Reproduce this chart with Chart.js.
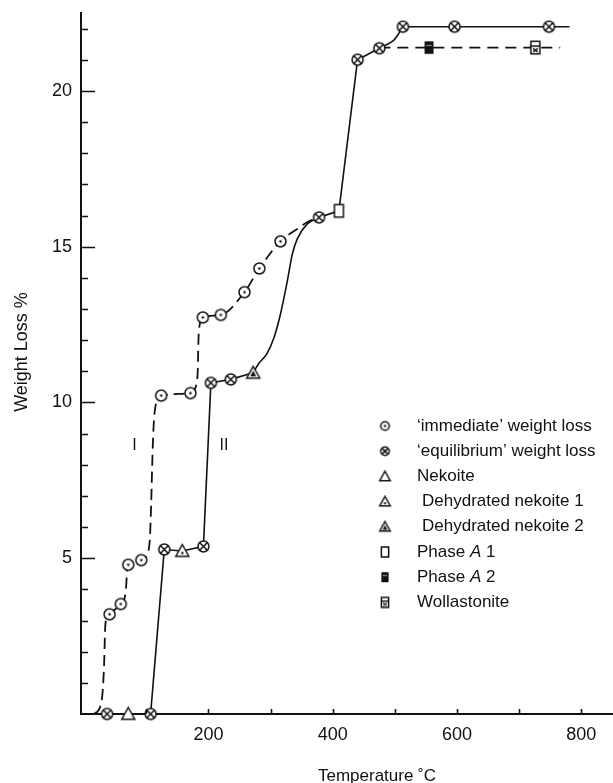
<!DOCTYPE html>
<html>
<head>
<meta charset="utf-8">
<script src="https://cdn.jsdelivr.net/npm/chart.js@4.4.1/dist/chart.umd.min.js"></script>
<style>
  html, body { margin: 0; padding: 0; background: #fff; }
  #chart { display: block; }
</style>
</head>
<body>
<canvas id="chart" width="613" height="783"></canvas>
<script>
// measured points (temperature °C, weight loss %)
const immTemp = [41, 59, 71, 92, 124, 171, 191, 220, 258, 282, 316]
const immLoss = [3.2, 3.53, 4.79, 4.94, 10.22, 10.3, 12.73, 12.81, 13.54, 14.3, 15.17]
const eqTemp = [37, 107, 129, 192, 204, 236, 378, 440, 475, 513, 596, 748]
const eqLoss = [0, 0, 5.28, 5.38, 10.63, 10.74, 15.94, 21.0, 21.37, 22.06, 22.06, 22.06]
const nekTemp = [71]
const nekLoss = [0]
const dehyd1Temp = [158]
const dehyd1Loss = [5.23]
const dehyd2Temp = [272]
const dehyd2Loss = [10.95]
const phaseA1Temp = [410]
const phaseA1Loss = [16.15]
const phaseA2Temp = [555]
const phaseA2Loss = [21.39]
const wollTemp = [726]
const wollLoss = [21.39]

// hand-drawn curve I (dashed)
const curveITemp = [16, 28, 32, 34, 36, 41, 59, 66, 68, 69, 71, 92, 103, 106, 108, 110, 112, 115, 124, 171, 181, 183, 184, 186, 191, 220, 258, 282, 316, 343, 361, 378]
const curveILoss = [0, 0.4, 1.5, 2.8, 3.05, 3.2, 3.53, 3.8, 4.2, 4.6, 4.79, 4.94, 5.2, 5.7, 6.8, 8.3, 9.3, 9.9, 10.22, 10.3, 10.6, 11.1, 12.0, 12.5, 12.73, 12.81, 13.54, 14.3, 15.17, 15.57, 15.81, 15.94]

// curve II (solid), straight and bent pieces
const lowStepTemp = [37, 71, 107, 129, 158, 192, 204, 236, 272]
const lowStepLoss = [0, 0, 0, 5.28, 5.23, 5.38, 10.63, 10.74, 10.95]
const sBendTemp = [272, 281, 294, 305, 316, 327, 335, 343, 359, 378]
const sBendLoss = [10.95, 11.25, 11.56, 12.05, 12.84, 13.9, 14.76, 15.25, 15.73, 15.94]
const jumpTemp = [378, 410, 440, 475]
const jumpLoss = [15.94, 16.15, 21.0, 21.37]
const topBendTemp = [475, 485, 498, 505, 510, 513]
const topBendLoss = [21.37, 21.47, 21.62, 21.8, 21.97, 22.06]
const plateauTemp = [513, 596, 748, 781]
const plateauLoss = [22.06, 22.06, 22.06, 22.06]
const phaseLineTemp = [475, 555, 726, 766]
const phaseLineLoss = [21.39, 21.39, 21.39, 21.39]

const xTickLabels = [200, 400, 600, 800]
const yTickLabels = [5, 10, 15, 20]

const curveNames = ["I", "II"]
const curveNameTemp = [81, 225]
const curveNameLoss = [8.6, 8.6]

const legendLabels = ["\u2018immediate\u2019 weight loss", "\u2018equilibrium\u2019 weight loss", "Nekoite", "Dehydrated nekoite 1", "Dehydrated nekoite 2", "Phase A 1", "Phase A 2", "Wollastonite"]
const legendKinds = ["dotCircle", "crossCircle", "triangle", "dotTriangle", "fillTriangle", "square", "filledSquare", "splitSquare"]

const INK = "#111"
const FONT = "'Liberation Sans', Arial, sans-serif"

function xy(temps, losses) {
  return temps.map((t, i) => ({ x: t, y: losses[i] }))
}

function makeMarker(kind, s) {
  const pad = 2
  const w = Math.ceil(s + pad * 2)
  const c = document.createElement("canvas")
  c.width = w
  c.height = w
  const g = c.getContext("2d")
  const m = w / 2
  const r = s / 2
  g.lineWidth = 1.5
  g.strokeStyle = INK
  g.fillStyle = "#fff"

  if (kind === "dotCircle" || kind === "crossCircle") {
    g.beginPath()
    g.arc(m, m, r, 0, Math.PI * 2)
    g.fill()
    g.stroke()
    if (kind === "dotCircle") {
      g.fillStyle = INK
      g.beginPath()
      g.arc(m, m, 1.2, 0, Math.PI * 2)
      g.fill()
    } else {
      const k = r * 0.68
      g.beginPath()
      g.moveTo(m - k, m - k)
      g.lineTo(m + k, m + k)
      g.moveTo(m + k, m - k)
      g.lineTo(m - k, m + k)
      g.stroke()
    }
  } else if (kind.includes("riangle")) {
    g.beginPath()
    g.moveTo(m, m - r)
    g.lineTo(m + r, m + r * 0.8)
    g.lineTo(m - r, m + r * 0.8)
    g.closePath()
    g.fill()
    g.stroke()
    g.fillStyle = INK
    if (kind === "fillTriangle") {
      g.beginPath()
      g.moveTo(m, m - r * 0.35)
      g.lineTo(m + r * 0.45, m + r * 0.55)
      g.lineTo(m - r * 0.45, m + r * 0.55)
      g.closePath()
      g.fill()
    } else if (kind === "dotTriangle") {
      g.beginPath()
      g.arc(m, m + r * 0.3, 1.2, 0, Math.PI * 2)
      g.fill()
    }
  } else {
    const hw = r * 0.72
    if (kind === "filledSquare") {
      g.fillStyle = INK
      g.fillRect(m - hw, m - r, hw * 2, r * 2)
      g.strokeStyle = "#aaa"
      g.lineWidth = 1
      g.beginPath()
      g.moveTo(m - hw + 1.5, m - r * 0.35)
      g.lineTo(m + hw - 1.5, m - r * 0.35)
      g.stroke()
    } else {
      g.fillRect(m - hw, m - r, hw * 2, r * 2)
      g.strokeRect(m - hw, m - r, hw * 2, r * 2)
      if (kind === "splitSquare") {
        g.beginPath()
        g.moveTo(m - hw, m - r * 0.25)
        g.lineTo(m + hw, m - r * 0.25)
        g.moveTo(m - hw * 0.5, m + r * 0.15)
        g.lineTo(m + hw * 0.5, m + r * 0.7)
        g.moveTo(m + hw * 0.5, m + r * 0.15)
        g.lineTo(m - hw * 0.5, m + r * 0.7)
        g.stroke()
      }
    }
  }
  return c
}

const dataMarkers = {}
const legendMarkers = {}
legendKinds.forEach((k) => {
  const big = k.includes("riangle") ? 13 : k.includes("quare") ? 12.5 : 11
  dataMarkers[k] = makeMarker(k, big)
  legendMarkers[k] = makeMarker(k, big - 2.5)
})

function traceSet(temps, losses, extra) {
  return Object.assign({
    data: xy(temps, losses),
    showLine: true,
    borderColor: INK,
    borderWidth: 1.6,
    pointRadius: 0,
    tension: 0,
    clip: false,
    order: 2,
  }, extra || {})
}

function markerSet(temps, losses, kind) {
  return {
    data: xy(temps, losses),
    showLine: false,
    pointStyle: dataMarkers[kind],
    pointRadius: 6,
    clip: false,
    order: 0,
  }
}

// keep the plot box fixed: no extra room for tick label overflow
function fixBox(size) {
  return (scale) => {
    if (scale.isHorizontal()) scale.height = size
    else scale.width = size
    scale.paddingTop = 0
    scale.paddingBottom = 0
    scale.paddingLeft = 0
    scale.paddingRight = 0
  }
}

// axis tick marks, titles, curve names and the legend
const decorations = {
  id: "decorations",
  afterDraw(chart) {
    const ctx = chart.ctx
    const area = chart.chartArea
    const xs = chart.scales.x
    const ys = chart.scales.y
    ctx.save()
    ctx.strokeStyle = INK
    ctx.lineWidth = 1.6
    ctx.beginPath()
    ys.ticks.forEach((t) => {
      if (!Number.isInteger(t.value) || t.value === 0) return
      const py = Math.round(ys.getPixelForValue(t.value)) + 0.5
      const len = t.value % 5 === 0 ? 14 : 7
      ctx.moveTo(area.left, py)
      ctx.lineTo(area.left + len, py)
    })
    xs.ticks.forEach((t) => {
      if (t.value < 100) return
      const px = Math.round(xs.getPixelForValue(t.value)) + 0.5
      ctx.moveTo(px, area.bottom)
      ctx.lineTo(px, area.bottom - 5)
    })
    ctx.stroke()

    ctx.fillStyle = INK
    ctx.textBaseline = "middle"
    ctx.textAlign = "center"
    ctx.font = "17px " + FONT
    ctx.fillText("Temperature \u02daC", 377, 776)

    ctx.save()
    ctx.translate(22, 352)
    ctx.rotate(-Math.PI / 2)
    ctx.font = "18px " + FONT
    ctx.fillText("Weight Loss %", 0, 0)
    ctx.restore()

    ctx.font = "16px " + FONT
    curveNames.forEach((name, i) => {
      ctx.fillText(name, xs.getPixelForValue(curveNameTemp[i]), ys.getPixelForValue(curveNameLoss[i]))
    })

    // legend
    ctx.textAlign = "left"
    const lx = area.left + 304
    const ly = area.top + 413
    const size = 17
    legendLabels.forEach((label, i) => {
      const y = ly + i * 25.2
      const img = legendMarkers[legendKinds[i]]
      ctx.drawImage(img, lx - img.width / 2, y - img.height / 2)
      let x = lx + (label.startsWith("Dehydrated") ? 37 : 32)
      ctx.font = size + "px " + FONT
      if (label.includes(" A ")) {
        const parts = label.split(" A ")
        ctx.fillText(parts[0] + " ", x, y)
        x += ctx.measureText(parts[0] + " ").width
        ctx.font = "italic " + size + "px " + FONT
        ctx.fillText("A", x, y)
        x += ctx.measureText("A").width
        ctx.font = size + "px " + FONT
        ctx.fillText(" " + parts[1], x, y)
      } else {
        ctx.fillText(label, x, y)
      }
    })
    ctx.restore()
  },
}

new Chart(document.getElementById("chart"), {
  type: "scatter",
  data: {
    datasets: [
      traceSet(curveITemp, curveILoss, { cubicInterpolationMode: "monotone", borderDash: [11, 6], borderWidth: 1.8 }),
      traceSet(lowStepTemp, lowStepLoss),
      traceSet(sBendTemp, sBendLoss, { cubicInterpolationMode: "monotone" }),
      traceSet(jumpTemp, jumpLoss),
      traceSet(topBendTemp, topBendLoss, { cubicInterpolationMode: "monotone" }),
      traceSet(plateauTemp, plateauLoss),
      traceSet(phaseLineTemp, phaseLineLoss, { borderDash: [11, 7], borderWidth: 1.9 }),
      markerSet(immTemp, immLoss, "dotCircle"),
      markerSet(eqTemp, eqLoss, "crossCircle"),
      markerSet(nekTemp, nekLoss, "triangle"),
      markerSet(dehyd1Temp, dehyd1Loss, "dotTriangle"),
      markerSet(dehyd2Temp, dehyd2Loss, "fillTriangle"),
      markerSet(phaseA1Temp, phaseA1Loss, "square"),
      markerSet(phaseA2Temp, phaseA2Loss, "filledSquare"),
      markerSet(wollTemp, wollLoss, "splitSquare"),
    ],
  },
  options: {
    responsive: false,
    animation: false,
    events: [],
    layout: { autoPadding: false, padding: { top: 13, right: 0, bottom: 0, left: 0 } },
    plugins: {
      legend: { display: false },
      tooltip: { enabled: false },
    },
    scales: {
      x: {
        type: "linear",
        min: -5,
        max: 851,
        grid: { display: false, drawTicks: false },
        border: { display: true, color: INK, width: 2 },
        ticks: {
          stepSize: 100,
          includeBounds: false,
          autoSkip: false,
          maxRotation: 0,
          padding: 10,
          color: INK,
          font: { family: FONT, size: 18 },
          callback: (v) => (xTickLabels.includes(v) ? String(v) : ""),
        },
        afterFit: fixBox(69),
      },
      y: {
        min: 0,
        max: 22.5,
        grid: { display: false, drawTicks: false },
        border: { display: true, color: INK, width: 2 },
        ticks: {
          stepSize: 1,
          includeBounds: false,
          autoSkip: false,
          padding: 9,
          color: INK,
          font: { family: FONT, size: 18 },
          callback: (v) => (yTickLabels.includes(v) ? String(v) : ""),
        },
        afterFit: fixBox(81),
      },
    },
  },
  plugins: [decorations],
})
</script>
</body>
</html>
